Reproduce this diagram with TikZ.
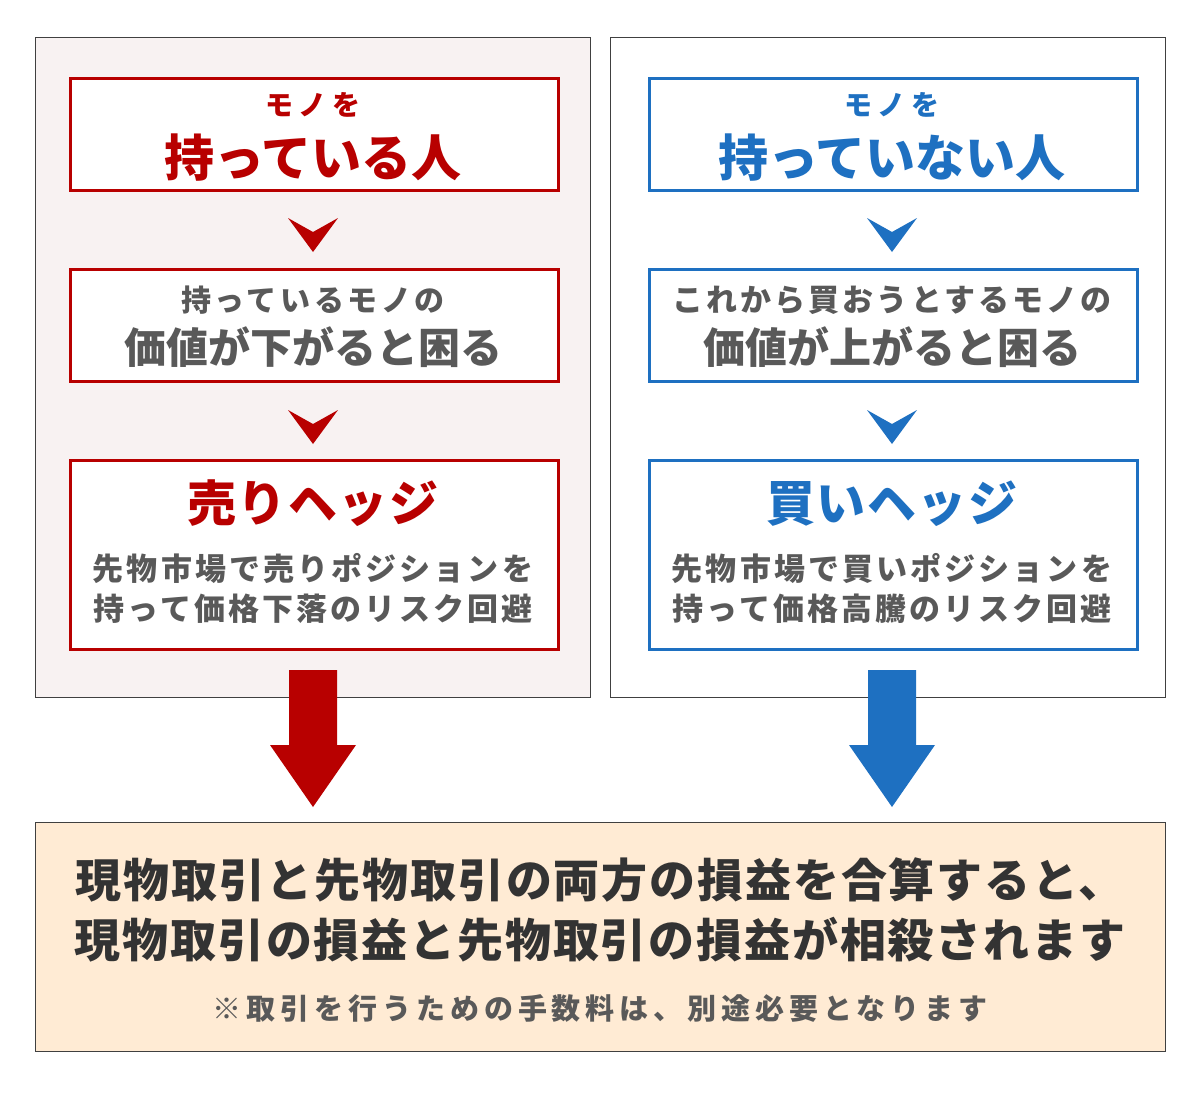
\documentclass[tikz,border=0pt]{standalone}
\usepackage{fontspec}
\newfontfamily\jp{Noto Sans CJK JP}
\definecolor{hred}{HTML}{B80000}
\definecolor{hblue}{HTML}{1E70C1}
\definecolor{hgray}{HTML}{595959}
\definecolor{hdark}{HTML}{333333}
\definecolor{hframe}{HTML}{404040}
\definecolor{hpink}{HTML}{F8F2F2}
\definecolor{hcream}{HTML}{FFEBD4}
\newcommand{\fs}[1]{\fontsize{#1}{#1}\selectfont}
\newcommand{\ls}[1]{\addfontfeature{LetterSpace=#1}}
\tikzset{
  panel/.style={draw=hframe, line width=1pt},
  redbox/.style={draw=hred, line width=3pt, fill=white},
  bluebox/.style={draw=hblue, line width=3pt, fill=white},
  txt/.style={anchor=base, inner sep=0pt, font=\jp\bfseries},
}
\begin{document}
\begin{tikzpicture}[x=1pt,y=-1pt]
\useasboundingbox (0,0) rectangle (1200,1100);
\fill[white] (0,0) rectangle (1200,1100);
% panels
\node[panel, fill=hpink, minimum width=555pt, minimum height=660pt, anchor=north west, inner sep=0pt] (lp) at (35,37) {};
\node[panel, fill=white, minimum width=555pt, minimum height=660pt, anchor=north west, inner sep=0pt] (rp) at (610,37) {};
\node[panel, fill=hcream, minimum width=1130pt, minimum height=229pt, anchor=north west, inner sep=0pt] (bot) at (35,822) {};
% left boxes
\node[redbox, minimum width=488pt, minimum height=112pt, anchor=north west, inner sep=0pt] (l1) at (69,77) {};
\node[redbox, minimum width=488pt, minimum height=112pt, anchor=north west, inner sep=0pt] (l2) at (69,268) {};
\node[redbox, minimum width=488pt, minimum height=189pt, anchor=north west, inner sep=0pt] (l3) at (69,459) {};
% right boxes
\node[bluebox, minimum width=488pt, minimum height=112pt, anchor=north west, inner sep=0pt] (r1) at (648,77) {};
\node[bluebox, minimum width=488pt, minimum height=112pt, anchor=north west, inner sep=0pt] (r2) at (648,268) {};
\node[bluebox, minimum width=488pt, minimum height=189pt, anchor=north west, inner sep=0pt] (r3) at (648,459) {};
% left texts
\node[txt, text=hred] (l1a) at (313,115.6) {\fs{28}\ls{19}モノを};
\node[txt, text=hred] (l1b) at (313,176) {\fs{50}持っている人};
\node[txt, text=hgray] (l2a) at (313,311.4) {\fs{30}\ls{12}持っているモノの};
\node[txt, text=hgray] (l2b) at (313,363) {\fs{42}価値が下がると困る};
\node[txt, text=hred] (l3a) at (313,521) {\fs{49}\ls{3}売りヘッジ};
\node[txt, text=hgray] (l3b) at (313,580.8) {\fs{31}\ls{10}先物市場で売りポジションを};
\node[txt, text=hgray] (l3c) at (313,620.8) {\fs{31}\ls{10}持って価格下落のリスク回避};
% right texts
\node[txt, text=hblue] (r1a) at (892,115.6) {\fs{28}\ls{19}モノを};
\node[txt, text=hblue] (r1b) at (892,176) {\fs{50}持っていない人};
\node[txt, text=hgray] (r2a) at (892,311.4) {\fs{31}\ls{10}これから買おうとするモノの};
\node[txt, text=hgray] (r2b) at (892,363) {\fs{42}価値が上がると困る};
\node[txt, text=hblue] (r3a) at (892,521) {\fs{49}\ls{3}買いヘッジ};
\node[txt, text=hgray] (r3b) at (892,580.8) {\fs{31}\ls{10}先物市場で買いポジションを};
\node[txt, text=hgray] (r3c) at (892,620.8) {\fs{31}\ls{10}持って価格高騰のリスク回避};
% bottom texts
\node[txt, text=hdark] (b1) at (600,897.5) {\fs{46}\ls{4}現物取引と先物取引の両方の損益を合算すると、};
\node[txt, text=hdark] (b2) at (600,957.5) {\fs{46}\ls{4}現物取引の損益と先物取引の損益が相殺されます};
\node[txt, text=hgray] (b3) at (600,1019) {\fs{29}\ls{17}※取引を行うための手数料は、別途必要となります};
% chevrons
\foreach \cx/\cy/\col in {313/218/hred, 313/410/hred, 892/218/hblue, 892/410/hblue}{
  \fill[\col] (\cx-25,\cy) -- (\cx,\cy+14) -- (\cx+25,\cy) -- (\cx,\cy+34) -- cycle;
}
% big arrows
\foreach \cx/\col in {313/hred, 892/hblue}{
  \fill[\col] (\cx-24,670) -- (\cx+24,670) -- (\cx+24,745) -- (\cx+43,745) -- (\cx,807) -- (\cx-43,745) -- (\cx-24,745) -- cycle;
}
\end{tikzpicture}
\end{document}
